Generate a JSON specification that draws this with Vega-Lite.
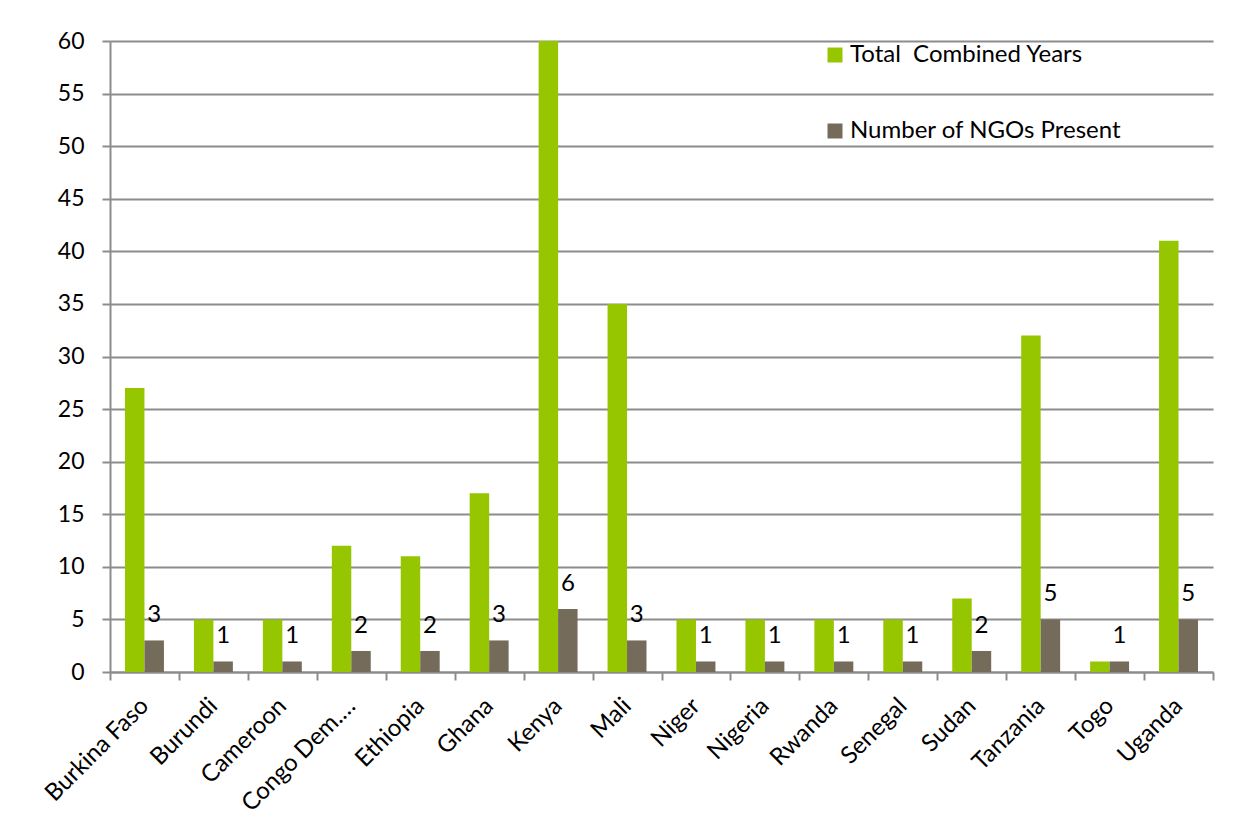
{
  "$schema": "https://vega.github.io/schema/vega-lite/v6.json",
  "width": 1103,
  "height": 631,
  "autosize": {"type": "none"},
  "padding": {"left": 110, "top": 41, "right": 40, "bottom": 149},
  "background": "white",
  "data": {
    "values": [
      {"country": "Burkina Faso", "series": "Total\u00a0 Combined Years", "value": 27},
      {"country": "Burkina Faso", "series": "Number of NGOs Present", "value": 3},
      {"country": "Burundi", "series": "Total\u00a0 Combined Years", "value": 5},
      {"country": "Burundi", "series": "Number of NGOs Present", "value": 1},
      {"country": "Cameroon", "series": "Total\u00a0 Combined Years", "value": 5},
      {"country": "Cameroon", "series": "Number of NGOs Present", "value": 1},
      {"country": "Congo Dem. Rep.", "series": "Total\u00a0 Combined Years", "value": 12},
      {"country": "Congo Dem. Rep.", "series": "Number of NGOs Present", "value": 2},
      {"country": "Ethiopia", "series": "Total\u00a0 Combined Years", "value": 11},
      {"country": "Ethiopia", "series": "Number of NGOs Present", "value": 2},
      {"country": "Ghana", "series": "Total\u00a0 Combined Years", "value": 17},
      {"country": "Ghana", "series": "Number of NGOs Present", "value": 3},
      {"country": "Kenya", "series": "Total\u00a0 Combined Years", "value": 60},
      {"country": "Kenya", "series": "Number of NGOs Present", "value": 6},
      {"country": "Mali", "series": "Total\u00a0 Combined Years", "value": 35},
      {"country": "Mali", "series": "Number of NGOs Present", "value": 3},
      {"country": "Niger", "series": "Total\u00a0 Combined Years", "value": 5},
      {"country": "Niger", "series": "Number of NGOs Present", "value": 1},
      {"country": "Nigeria", "series": "Total\u00a0 Combined Years", "value": 5},
      {"country": "Nigeria", "series": "Number of NGOs Present", "value": 1},
      {"country": "Rwanda", "series": "Total\u00a0 Combined Years", "value": 5},
      {"country": "Rwanda", "series": "Number of NGOs Present", "value": 1},
      {"country": "Senegal", "series": "Total\u00a0 Combined Years", "value": 5},
      {"country": "Senegal", "series": "Number of NGOs Present", "value": 1},
      {"country": "Sudan", "series": "Total\u00a0 Combined Years", "value": 7},
      {"country": "Sudan", "series": "Number of NGOs Present", "value": 2},
      {"country": "Tanzania", "series": "Total\u00a0 Combined Years", "value": 32},
      {"country": "Tanzania", "series": "Number of NGOs Present", "value": 5},
      {"country": "Togo", "series": "Total\u00a0 Combined Years", "value": 1},
      {"country": "Togo", "series": "Number of NGOs Present", "value": 1},
      {"country": "Uganda", "series": "Total\u00a0 Combined Years", "value": 41},
      {"country": "Uganda", "series": "Number of NGOs Present", "value": 5}
    ]
  },
  "encoding": {
    "x": {
      "field": "country",
      "type": "nominal",
      "sort": null,
      "scale": {"paddingInner": 0, "paddingOuter": 0},
      "axis": {
        "title": null,
        "labelAngle": -45,
        "labelAlign": "right",
        "labelBaseline": "middle",
        "labelFont": "Lato",
        "labelFontSize": 24,
        "labelColor": "#000000",
        "labelPadding": 22,
        "labelLimit": 300,
        "labelExpr": "datum.label == 'Congo Dem. Rep.' ? 'Congo Dem.…' : datum.label",
        "tickBand": "extent",
        "tickSize": 8,
        "tickColor": "#8c8c8c",
        "tickWidth": 2,
        "domainColor": "#8c8c8c",
        "domainWidth": 2,
        "grid": false
      }
    },
    "xOffset": {
      "field": "series",
      "type": "nominal",
      "sort": ["Total\u00a0 Combined Years", "Number of NGOs Present"],
      "scale": {"paddingInner": 0, "paddingOuter": 0.77}
    },
    "y": {
      "field": "value",
      "type": "quantitative",
      "scale": {"domain": [0, 60], "nice": false},
      "axis": {
        "title": null,
        "values": [0, 5, 10, 15, 20, 25, 30, 35, 40, 45, 50, 55, 60],
        "labelFont": "Lato",
        "labelFontSize": 23,
        "labelColor": "#000000",
        "labelPadding": 18,
        "tickSize": 8,
        "tickColor": "#8c8c8c",
        "tickWidth": 2,
        "domainColor": "#8c8c8c",
        "domainWidth": 2,
        "gridColor": "#8c8c8c",
        "gridWidth": 2
      }
    }
  },
  "layer": [
    {
      "mark": {"type": "bar"},
      "encoding": {
        "color": {
          "field": "series",
          "type": "nominal",
          "sort": ["Total\u00a0 Combined Years", "Number of NGOs Present"],
          "scale": {
            "domain": ["Total\u00a0 Combined Years", "Number of NGOs Present"],
            "range": ["#96c600", "#756b5b"]
          },
          "legend": {
            "title": null,
            "orient": "none",
            "legendX": 713,
            "legendY": 2,
            "symbolType": "square",
            "symbolSize": 225,
            "symbolStrokeWidth": 0,
            "symbolOpacity": 1,
            "labelFont": "Lato",
            "labelFontSize": 24,
            "labelColor": "#000000",
            "labelOffset": 3,
            "labelLimit": 400,
            "rowPadding": 52
          }
        }
      }
    },
    {
      "transform": [{"filter": "datum.series == 'Number of NGOs Present'"}],
      "mark": {
        "type": "text",
        "font": "Lato",
        "fontSize": 24,
        "color": "#000000",
        "baseline": "alphabetic",
        "align": "center",
        "dy": -18
      },
      "encoding": {
        "text": {"field": "value", "type": "quantitative"}
      }
    }
  ],
  "config": {
    "view": {"stroke": null},
    "legend": {"padding": 0}
  }
}
